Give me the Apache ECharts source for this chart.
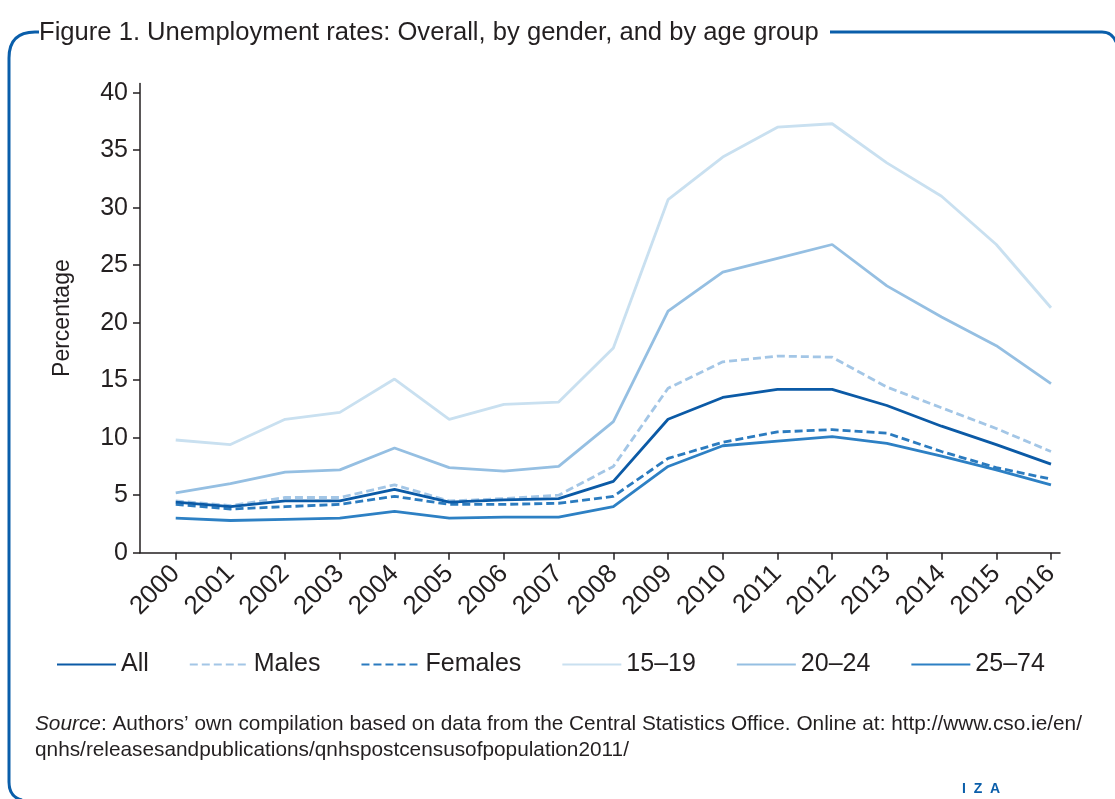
<!DOCTYPE html>
<html>
<head>
<meta charset="utf-8">
<script src="https://cdn.jsdelivr.net/npm/echarts@6/dist/echarts.min.js"></script>
<style>
html,body{margin:0;padding:0;background:#fff;}
#chart{width:1115px;height:799px;}
</style>
</head>
<body>
<div id="chart"></div>
<script>
// ---- data ----
var years = [2000,2001,2002,2003,2004,2005,2006,2007,2008,2009,2010,2011,2012,2013,2014,2015,2016];
var yTicks = [0,5,10,15,20,25,30,35,40];
var seriesNames = ['All','Males','Females','15\u201319','20\u201324','25\u201374'];
var allRate     = [4.4, 4.0, 4.5, 4.5, 5.5, 4.4, 4.6, 4.7, 6.2, 11.6, 13.5, 14.2, 14.2, 12.8, 11.0, 9.4, 7.7];
var malesRate   = [4.5, 4.1, 4.8, 4.8, 5.9, 4.5, 4.7, 5.0, 7.5, 14.3, 16.6, 17.1, 17.0, 14.4, 12.6, 10.8, 8.8];
var femalesRate = [4.2, 3.8, 4.0, 4.2, 4.9, 4.2, 4.2, 4.3, 4.9, 8.2, 9.6, 10.5, 10.7, 10.4, 8.8, 7.4, 6.4];
var age1519     = [9.8, 9.4, 11.6, 12.2, 15.1, 11.6, 12.9, 13.1, 17.8, 30.7, 34.4, 37.0, 37.3, 33.9, 31.0, 26.8, 21.3];
var age2024     = [5.2, 6.0, 7.0, 7.2, 9.1, 7.4, 7.1, 7.5, 11.4, 21.0, 24.4, 25.6, 26.8, 23.2, 20.5, 18.0, 14.7];
var age2574     = [3.0, 2.8, 2.9, 3.0, 3.6, 3.0, 3.1, 3.1, 4.0, 7.5, 9.3, 9.7, 10.1, 9.5, 8.4, 7.2, 5.9];

var values = [allRate, malesRate, femalesRate, age1519, age2024, age2574];
var colors = ['#0b5aa6', '#a3c6e6', '#2b7bbf', '#c9e0f0', '#95bfe2', '#2d80c4'];
var dashed = [false, true, true, false, false, false];
var zs     = [6, 4, 5, 1, 2, 3];

var FONT = "'Liberation Sans', Arial, sans-serif";
var TXT = '#231f20';
var FRAME = '#0a5eaa';

function pairs(arr){ return years.map(function(y,i){ return [y, arr[i]]; }); }

var series = values.map(function(v,i){
  return {
    name: seriesNames[i], type: 'line', data: pairs(v), symbol: 'none', z: zs[i],
    lineStyle: { color: colors[i], width: 2.8, type: dashed[i] ? [8,4] : 'solid' },
    itemStyle: { color: colors[i] }
  };
});

var frameStyle = { fill: null, stroke: FRAME, lineWidth: 3 };

var chart = echarts.init(document.getElementById('chart'), null, {renderer:'canvas'});
chart.setOption({
  animation: false,
  backgroundColor: '#fff',
  grid: { left: 140, top: 83.5, width: 920, height: 469.2, containLabel: false },
  xAxis: {
    type: 'value', min: 1999.347, max: 2016.165,
    axisLine: { show: true, lineStyle: { color: TXT, width: 1.5 } },
    axisTick: { show: true, customValues: years, length: 7, inside: false, lineStyle: { color: TXT, width: 1.5 } },
    axisLabel: { customValues: years, rotate: 45, margin: 17, color: TXT, fontSize: 26, fontFamily: FONT,
                 formatter: function(v){ return String(Math.round(v)); } },
    splitLine: { show: false }
  },
  yAxis: {
    type: 'value', min: 0, max: 40.8,
    name: 'Percentage', nameLocation: 'middle', nameGap: 66, nameRotate: 90,
    nameTextStyle: { color: TXT, fontSize: 23, fontFamily: FONT },
    axisLine: { show: true, lineStyle: { color: TXT, width: 1.5 } },
    axisTick: { show: true, customValues: yTicks, length: 7, lineStyle: { color: TXT, width: 1.5 } },
    axisLabel: { customValues: yTicks, margin: 12, color: TXT, fontSize: 25, fontFamily: FONT },
    splitLine: { show: false }
  },
  legend: {
    left: 56, top: 652, padding: 0, itemWidth: 59, itemHeight: 14, itemGap: 40,
    itemStyle: { opacity: 0 },
    textStyle: { color: TXT, fontSize: 25, fontFamily: FONT },
    data: seriesNames
  },
  graphic: [
    { type: 'line', shape: { x1: 9, y1: 58, x2: 9, y2: 782 }, style: frameStyle },
    { type: 'bezierCurve', shape: { x1: 9, y1: 58, cpx1: 9, cpy1: 32, x2: 35, y2: 32 }, style: frameStyle },
    { type: 'line', shape: { x1: 35, y1: 32, x2: 39, y2: 32 }, style: frameStyle },
    { type: 'line', shape: { x1: 830, y1: 32, x2: 1102, y2: 32 }, style: frameStyle },
    { type: 'bezierCurve', shape: { x1: 1102, y1: 32, cpx1: 1112, cpy1: 32, x2: 1116, y2: 42 }, style: frameStyle },
    { type: 'bezierCurve', shape: { x1: 9, y1: 782, cpx1: 9, cpy1: 797, x2: 22, y2: 800 }, style: frameStyle },
    { type: 'text', left: 39, top: 20,
      style: { text: 'Figure 1. Unemployment rates: Overall, by gender, and by age group',
               fill: TXT, font: '25.6px ' + FONT } },
    { type: 'text', left: 35, top: 711,
      style: {
        text: '{i|Source}: Authors\u2019 own compilation based on data from the Central Statistics Office. Online at: http://www.cso.ie/en/\nqnhs/releasesandpublications/qnhspostcensusofpopulation2011/',
        fill: TXT, font: '20.8px ' + FONT, lineHeight: 26,
        rich: { i: { fontStyle: 'italic', fontSize: 20.8, fontFamily: FONT, fill: TXT } }
      } },
    { type: 'text', left: 962, top: 782,
      style: { text: 'I  Z  A', fill: FRAME, font: 'bold 14px ' + FONT } }
  ],
  series: series
});
</script>
</body>
</html>
